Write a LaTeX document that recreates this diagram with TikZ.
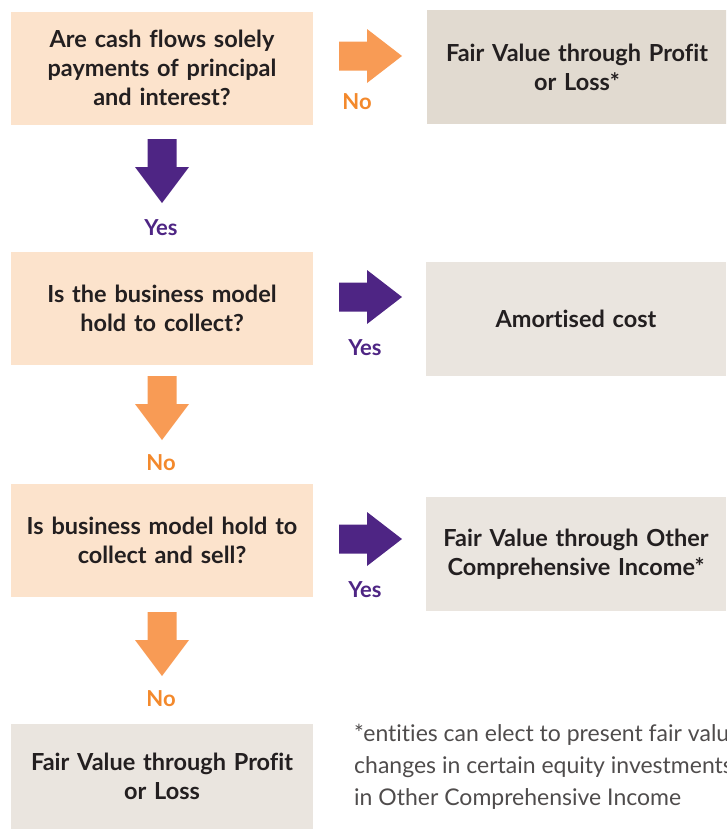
\documentclass[tikz,border=0pt]{standalone}
\usepackage{fontspec}
\setmainfont{Lato}[Ligatures=NoCommon]
\definecolor{peach}{HTML}{FCE3CC}
\definecolor{greyA}{HTML}{E1DAD0}
\definecolor{greyB}{HTML}{EAE5DF}
\definecolor{orangeA}{HTML}{F89B55}
\definecolor{orangeT}{HTML}{F3892C}
\definecolor{purpleA}{HTML}{4E2584}
\definecolor{ink}{HTML}{231F20}
\begin{document}
\begin{tikzpicture}[x=1pt,y=-1pt,
  box/.style={rectangle,inner sep=0pt,minimum width=302pt,minimum height=113pt,
    text width=296pt,align=center,text=ink,font=\fontsize{23.5}{29}\selectfont\bfseries},
  qbox/.style={box,fill=peach},
  abox/.style={box,fill=greyB,minimum width=300pt,minimum height=114pt},
  lbl/.style={font=\fontsize{22}{24}\selectfont\bfseries,inner sep=0pt},
  rarr/.pic={\fill (0,-14.5)--(28,-14.5)--(28,-27)--(63,0)--(28,27)--(28,14.5)--(0,14.5)--cycle;},
  darr/.pic={\fill (-14.5,0)--(-14.5,28)--(-27,28)--(0,64)--(27,28)--(14.5,28)--(14.5,0)--cycle;}]
\useasboundingbox (0,0) rectangle (726,830);
\clip (0,0) rectangle (726,830);
% question boxes
\node[qbox] (q1) at (162,68) {\raisebox{0pt}{}Are cash flows solely\\payments of principal\\and interest?};
\node[qbox] (q2) at (162,308.5) {Is the business model\\hold to collect?};
\node[qbox] (q3) at (162,540.5) {Is business model hold to\\collect and sell?};
% answer boxes
\node[abox,fill=greyA,minimum height=114pt] (a1) at (577,67) {Fair Value through Profit\\or Loss*};
\node[abox] (a2) at (576,319) {Amortised cost};
\node[abox] (a3) at (576,554) {Fair Value through Other\\Comprehensive Income*};
\node[box,fill=greyB,minimum height=105pt] (a4) at (162,776.5) {Fair Value through Profit\\or Loss};
% right arrows
\pic[fill=orangeA] at (339,56) {rarr};
\pic[fill=purpleA] at (339,297) {rarr};
\pic[fill=purpleA] at (339,539) {rarr};
% down arrows
\pic[fill=purpleA] at (162,139) {darr};
\pic[fill=orangeA] at (162,376) {darr};
\pic[fill=orangeA] at (162,612) {darr};
% labels
\node[lbl,text=orangeT] (n1) at (357,102) {No};
\node[lbl,text=purpleA] (y2) at (365,348) {Yes};
\node[lbl,text=purpleA] (y3) at (365,590) {Yes};
\node[lbl,text=purpleA] (y1) at (161,228) {Yes};
\node[lbl,text=orangeT] (n2) at (161,463) {No};
\node[lbl,text=orangeT] (n3) at (161,699) {No};
% footnote
\node[anchor=north west,inner sep=0pt,align=left,text=ink!80,
  font=\fontsize{23}{32}\selectfont] (fn) at (354,724)
  {*entities can elect to present fair value\\changes in certain equity investments\\in Other Comprehensive Income};
\end{tikzpicture}
\end{document}
